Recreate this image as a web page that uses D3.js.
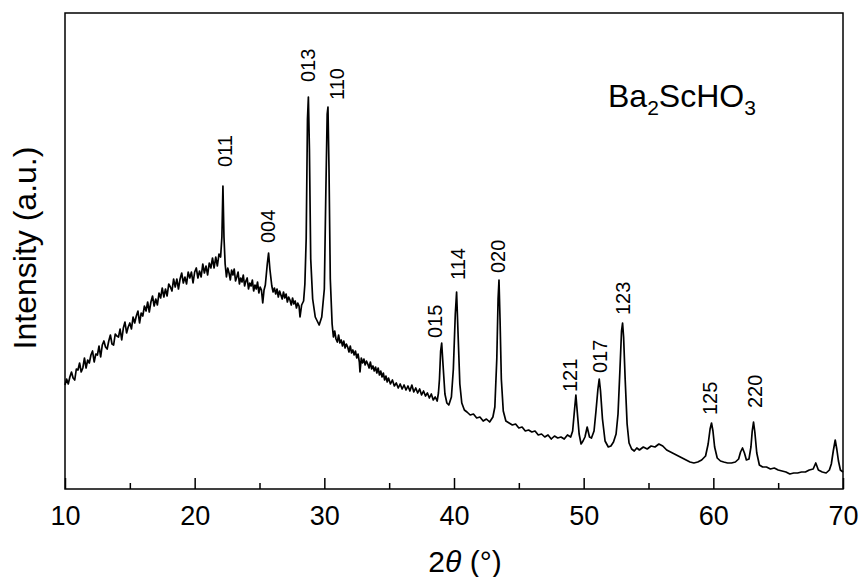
<!DOCTYPE html>
<html>
<head>
<meta charset="utf-8">
<script src="https://cdn.jsdelivr.net/npm/d3@7"></script>
<style>
  body { margin: 0; background: #fff; }
  svg text { font-family: "Liberation Sans", Arial, sans-serif; fill: #000; }
</style>
</head>
<body>
<div class="main"></div>
<script>
  'use strict';

  // XRD pattern: [2theta, intensity (a.u.)]
  var pattern = [
    [10.0,104],[10.125,110],[10.25,105],[10.375,112],[10.5,117],[10.625,111],[10.75,109],[10.875,120],
    [11.0,119],[11.125,126],[11.25,117],[11.375,121],[11.5,131],[11.625,121],[11.75,129],[11.875,126],
    [12.0,134],[12.125,138],[12.25,127],[12.375,135],[12.5,134],[12.625,143],[12.75,132],[12.875,144],
    [13.0,148],[13.125,142],[13.25,140],[13.375,148],[13.5,154],[13.625,145],[13.75,144],[13.875,155],
    [14.0,153],[14.125,152],[14.25,160],[14.375,149],[14.5,161],[14.625,167],[14.75,156],[14.875,162],
    [15.0,166],[15.125,160],[15.25,172],[15.375,166],[15.5,173],[15.625,178],[15.75,166],[15.875,176],
    [16.0,173],[16.125,183],[16.25,178],[16.375,187],[16.5,177],[16.625,187],[16.75,193],[16.875,183],
    [17.0,190],[17.125,184],[17.25,196],[17.375,191],[17.5,201],[17.625,192],[17.75,200],[17.875,193],
    [18.0,205],[18.125,202],[18.25,198],[18.375,210],[18.5,202],[18.625,210],[18.75,200],[18.875,210],
    [19.0,216],[19.125,206],[19.25,212],[19.375,205],[19.5,217],[19.625,211],[19.75,217],[19.875,206],
    [20.0,217],[20.125,221],[20.25,211],[20.375,218],[20.5,212],[20.625,225],[20.75,216],[20.875,223],
    [21.0,214],[21.125,226],[21.25,221],[21.375,231],[21.5,221],[21.625,232],[21.75,223],[21.875,235],
    [22.0,232],[22.1,252],[22.18,303],[22.26,252],[22.35,225],[22.45,212],[22.55,221],[22.65,216],
    [22.75,209],[22.85,219],[22.95,214],[23.05,220],[23.15,208],[23.25,212],[23.35,217],[23.45,205],
    [23.55,211],[23.65,207],[23.75,214],[23.85,203],[23.95,208],[24.05,211],[24.15,200],[24.25,206],
    [24.35,203],[24.45,209],[24.55,198],[24.65,204],[24.75,200],[24.85,207],[24.95,196],[25.05,202],
    [25.15,199],[25.25,186],[25.35,199],[25.45,204],[25.6,225],[25.7,236],[25.8,220],[25.95,203],
    [26.05,197],[26.15,201],[26.25,195],[26.35,200],[26.45,192],[26.55,198],[26.65,194],[26.75,190],
    [26.85,197],[26.95,191],[27.05,195],[27.15,187],[27.25,192],[27.35,189],[27.45,184],[27.55,191],
    [27.65,185],[27.75,188],[27.85,181],[27.95,186],[28.05,183],[28.125,172],[28.25,184],[28.4,188],
    [28.5,205],[28.6,250],[28.7,370],[28.77,392],[28.85,340],[28.95,230],[29.1,190],[29.3,172],
    [29.45,168],[29.6,164],[29.8,172],[30.0,200],[30.12,300],[30.22,375],[30.28,382],[30.36,320],
    [30.46,210],[30.6,165],[30.7,152],[30.8,158],[30.9,150],[31.0,147],[31.1,154],[31.2,146],
    [31.3,149],[31.4,143],[31.5,148],[31.6,141],[31.7,145],[31.8,142],[31.9,137],[32.0,143],
    [32.1,136],[32.2,139],[32.3,134],[32.4,138],[32.5,131],[32.6,135],[32.7,127],[32.75,117],
    [32.85,131],[32.95,126],[33.05,130],[33.15,124],[33.25,128],[33.35,125],[33.45,121],[33.55,127],
    [33.65,120],[33.75,123],[33.85,118],[33.95,122],[34.05,116],[34.15,121],[34.25,114],[34.35,118],
    [34.45,112],[34.55,116],[34.65,109],[34.75,113],[34.85,107],[34.95,111],[35.1,105],[35.25,109],
    [35.4,103],[35.55,106],[35.7,101],[35.85,105],[36.0,100],[36.15,104],[36.3,99],[36.45,103],
    [36.6,98],[36.75,104],[36.9,97],[37.05,101],[37.2,96],[37.35,100],[37.5,94],[37.65,98],
    [37.8,93],[37.95,96],[38.1,91],[38.25,95],[38.4,89],[38.55,92],[38.7,88],[38.8,96],
    [38.88,110],[38.97,138],[39.05,146],[39.15,125],[39.3,95],[39.45,86],[39.6,84],
    [39.8,92],[39.95,120],[40.1,175],[40.2,197],[40.3,160],[40.45,105],[40.6,86],[40.8,79],
    [41.0,77],[41.25,74],[41.5,75],[41.75,71],[42.0,72],[42.25,68],[42.5,70],[42.75,67],
    [43.0,72],[43.15,82],[43.3,130],[43.4,190],[43.47,209],[43.55,170],[43.65,110],[43.8,78],
    [44.0,68],[44.25,66],[44.5,64],[44.75,65],[45.0,61],[45.25,62],[45.5,58],[45.75,59],
    [46.0,57],[46.25,58],[46.5,54],[46.75,55],[47.0,52],[47.25,54],[47.5,50],[47.75,53],
    [48.0,51],[48.25,52],[48.5,50],[48.75,54],[49.0,52],[49.15,58],[49.3,80],[49.4,94],
    [49.5,78],[49.65,55],[49.8,45],[49.95,48],[50.1,52],[50.27,62],[50.45,52],[50.6,51],
    [50.8,58],[50.95,78],[51.1,100],[51.2,110],[51.3,98],[51.45,70],[51.65,48],[51.9,42],
    [52.1,43],[52.3,47],[52.5,55],[52.65,75],[52.8,120],[52.92,158],[53.0,166],[53.08,152],
    [53.2,110],[53.35,65],[53.5,46],[53.7,40],[53.9,38],[54.1,41],[54.3,39],[54.6,42],
    [54.9,40],[55.2,43],[55.5,42],[55.8,45],[56.1,43],[56.4,39],[56.7,37],[57.0,35],
    [57.3,33],[57.6,31],[57.9,29],[58.2,27],[58.5,26],[58.8,27],[59.1,29],[59.4,33],
    [59.6,45],[59.75,60],[59.86,66],[59.97,58],[60.1,42],[60.3,31],[60.55,28],[60.8,27],
    [61.1,26],[61.4,26],[61.7,27],[61.95,30],[62.1,37],[62.25,41],[62.4,36],[62.55,29],
    [62.75,30],[62.9,42],[63.0,58],[63.1,67],[63.2,57],[63.35,36],[63.55,24],[63.8,22],
    [64.1,22],[64.4,20],[64.7,21],[65.0,19],[65.3,18],[65.6,17],[65.9,15],[66.2,16],
    [66.5,16],[66.8,17],[67.1,17],[67.4,19],[67.7,20],[67.9,26],[68.1,19],[68.4,17],
    [68.7,16],[68.95,19],[69.1,25],[69.25,38],[69.4,49],[69.52,40],[69.65,28],[69.8,19],
    [70.0,17]
  ];

  // peak indices and where their labels sit (2theta, intensity at label foot)
  var hkl        = ["011", "004", "013", "110", "015", "114", "020", "121", "017", "123", "125", "220"];
  var labelAngle = [22.34, 25.65, 28.74, 30.98, 38.53, 40.31, 43.39, 48.95, 51.26, 53.03, 59.74, 63.21];
  var labelLevel = [322, 246, 407, 389, 151, 209, 216, 97, 116, 174, 74, 81];

  var majorTicks = [10, 20, 30, 40, 50, 60, 70];
  var minorTicks = [15, 25, 35, 45, 55, 65];

  var width = 861, height = 577;
  var margin = {top: 13, right: 18, bottom: 88, left: 65};
  var w = width - margin.left - margin.right;
  var h = height - margin.top - margin.bottom;

  var x = d3.scaleLinear().domain([10, 70]).range([0, w]);
  var y = d3.scaleLinear().domain([0, 476]).range([h, 0]);

  var svg = d3.select(".main")
    .append("svg")
      .attr("width", width)
      .attr("height", height)
    .append("g")
      .attr("transform", "translate(" + margin.left + "," + margin.top + ")");

  var line = d3.line()
    .x(function(d) { return x(d[0]); })
    .y(function(d) { return y(d[1]); });

  svg.append("path")
    .datum(pattern)
      .attr("d", line)
      .style("fill", "none")
      .style("stroke", "#000")
      .style("stroke-width", 1.7)
      .style("stroke-linejoin", "round");

  // major ticks with labels
  var xAxis = svg.append("g")
    .attr("transform", "translate(0," + h + ")")
    .call(d3.axisBottom(x)
      .tickValues(majorTicks)
      .tickSizeInner(-11)
      .tickSizeOuter(0)
      .tickPadding(17)
      .tickFormat(d3.format("d")));

  xAxis.select(".domain").remove();
  xAxis.selectAll("line").style("stroke", "#000").style("stroke-width", 1.5);
  xAxis.selectAll("text")
    .style("font-family", "Liberation Sans, Arial, sans-serif")
    .style("font-size", "27px");

  // minor ticks
  var minorAxis = svg.append("g")
    .attr("transform", "translate(0," + h + ")")
    .call(d3.axisBottom(x)
      .tickValues(minorTicks)
      .tickSizeInner(-6)
      .tickSizeOuter(0)
      .tickFormat(""));

  minorAxis.select(".domain").remove();
  minorAxis.selectAll("line").style("stroke", "#000").style("stroke-width", 1.5);

  // frame
  svg.append("rect")
    .attr("width", w)
    .attr("height", h)
    .style("fill", "none")
    .style("stroke", "#000")
    .style("stroke-width", 1.5);

  // peak labels, rotated
  svg.selectAll(".hkl")
    .data(hkl)
    .enter()
    .append("text")
      .attr("class", "hkl")
      .attr("transform", function(d, i) {
        return "translate(" + x(labelAngle[i]) + "," + y(labelLevel[i]) + ") rotate(-90)";
      })
      .attr("dy", "0.36em")
      .style("font-size", "20px")
      .style("text-anchor", "start")
      .text(function(d) { return d; });

  // compound name
  var formula = svg.append("text")
    .attr("x", 543)
    .attr("y", 94)
    .style("font-size", "32px");
  formula.append("tspan").text("Ba");
  formula.append("tspan").attr("dy", 8).style("font-size", "21px").text("2");
  formula.append("tspan").attr("dy", -8).text("ScHO");
  formula.append("tspan").attr("dy", 8).style("font-size", "21px").text("3");

  // axis titles
  var xTitle = svg.append("text")
    .attr("x", 400)
    .attr("y", h + 83)
    .style("font-size", "30px")
    .style("text-anchor", "middle");
  xTitle.append("tspan").text("2");
  xTitle.append("tspan").style("font-style", "italic").text("\u03b8");
  xTitle.append("tspan").text(" (\u00b0)");

  svg.append("text")
    .attr("transform", "translate(" + (-29) + "," + (h / 2 - 3) + ") rotate(-90)")
    .style("font-size", "32px")
    .style("text-anchor", "middle")
    .text("Intensity (a.u.)");
</script>
</body>
</html>
